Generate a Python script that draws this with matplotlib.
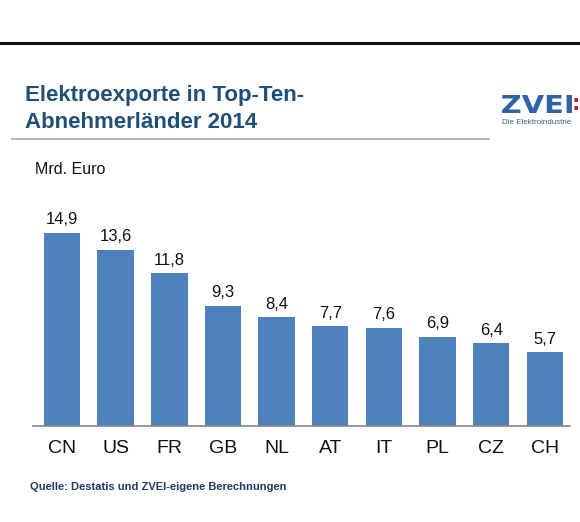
import matplotlib
matplotlib.use("Agg")
import matplotlib.pyplot as plt
from matplotlib.lines import Line2D
from matplotlib.textpath import TextPath
from matplotlib.patches import PathPatch
from matplotlib.font_manager import FontProperties
from matplotlib.transforms import Affine2D

plt.rcParams['font.family'] = ['Liberation Sans', 'DejaVu Sans']

countries = ["CN", "US", "FR", "GB", "NL", "AT", "IT", "PL", "CZ", "CH"]
values = [14.9, 13.6, 11.8, 9.3, 8.4, 7.7, 7.6, 6.9, 6.4, 5.7]
value_labels = ["14,9", "13,6", "11,8", "9,3", "8,4", "7,7", "7,6", "6,9", "6,4", "5,7"]

W, H = 580, 522
fig = plt.figure(figsize=(W / 100, H / 100), dpi=100)
fig.patch.set_facecolor("white")

def fx(px):
    return px / W

def fy(py):
    return 1 - py / H

# top black rule
fig.add_artist(Line2D([0, 1], [fy(43), fy(43)], color="#111111", lw=2.2))

# title
fig.text(fx(25), fy(96), "Elektroexporte in Top-Ten-", fontsize=16, fontweight="bold",
         color="#1F4E79", va="center", ha="left")
fig.text(fx(25), fy(122), "Abnehmerländer 2014", fontsize=16, fontweight="bold",
         color="#1F4E79", va="center", ha="left")
# gray rule under title
fig.add_artist(Line2D([fx(12), fx(489)], [fy(139), fy(139)], color="#A6A6A6", lw=1.2))

# logo: stretched "ZVEI" word mark
fp = FontProperties(family="DejaVu Sans", weight="bold")
tp = TextPath((0, 0), "ZVEI", size=10, prop=fp)
ext = tp.get_extents()
target_w, target_h = 70.0, 18.0
sx = target_w / ext.width
sy = target_h / ext.height
to_fig = Affine2D().scale(1 / W, 1 / H) + fig.transFigure
tr = (Affine2D().translate(-ext.x0, -ext.y0).scale(sx, sy)
      .translate(502, H - 113) + to_fig)
fig.add_artist(PathPatch(tp, transform=tr, facecolor="#2E63A8", edgecolor="none"))
fig.text(fx(572), fy(104), ":", fontsize=15, fontweight="bold", color="#C0283A",
         va="center", ha="left", family="DejaVu Sans")
fig.text(fx(502), fy(123), "Die Elektroindustrie", fontsize=5.8, color="#4A5A7A",
         va="center", ha="left")

# unit label
fig.text(fx(35), fy(170), "Mrd. Euro", fontsize=11.5, color="#111111", va="center", ha="left")

# chart
ax = fig.add_axes([fx(33), fy(426), fx(570) - fx(33), (426 - 200) / H])
x = list(range(len(countries)))
bars = ax.bar(x, values, width=0.68, color="#4F81BD", zorder=2)
ax.set_xlim(-0.54, 9.47)
ax.set_ylim(0, 226 / 12.95)
for xi, v, lab in zip(x, values, value_labels):
    ax.annotate(lab, (xi, v), xytext=(0, 4), textcoords="offset points",
                ha="center", va="bottom", fontsize=12, color="#111111")
ax.set_xticks(x)
ax.set_xticklabels(countries, fontsize=14, color="#111111")
ax.tick_params(axis="x", length=0, pad=10)
ax.set_yticks([])
for s in ["top", "right", "left"]:
    ax.spines[s].set_visible(False)
ax.spines["bottom"].set_color("#868686")
ax.spines["bottom"].set_linewidth(1.2)
ax.set_facecolor("white")

# source
fig.text(fx(30), fy(487), "Quelle: Destatis und ZVEI-eigene Berechnungen", fontsize=8,
         fontweight="bold", color="#1F3864", va="center", ha="left")

fig.savefig("out.png", dpi=100, facecolor="white")
